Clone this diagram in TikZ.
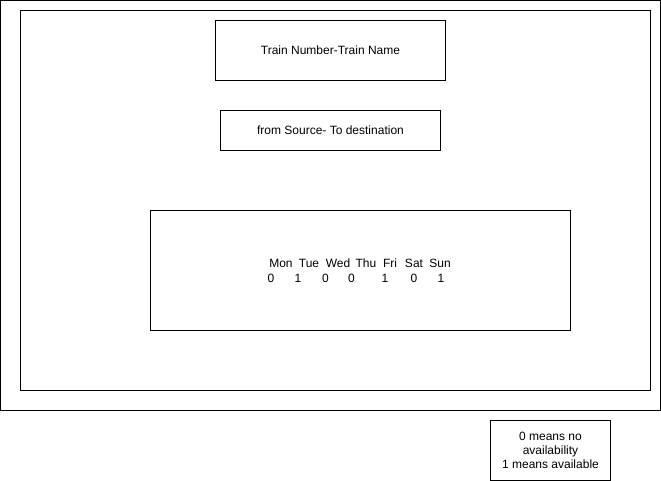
\documentclass[tikz,border=0pt]{standalone}
\usepackage{fontspec}
\setmainfont{Liberation Sans}
\usepackage{tikz}
\usetikzlibrary{positioning}

\tikzset{
  box/.style={draw, line width=1pt, inner sep=0pt, align=center},
  txt/.style={inner sep=0pt, anchor=base},
}

\begin{document}
\begin{tikzpicture}[x=1pt, y=-1pt, line width=1pt, font=\fontsize{12}{14}\selectfont]
  \useasboundingbox (0,0) rectangle (661,481);
  % frames
  \draw (0.5,0.5) rectangle (660.5,410.5);
  \draw (20.5,10.5) rectangle (650.5,390.5);
  \node[box, minimum width=230pt, minimum height=60pt] (train) at (330.5,50.5) {Train Number-Train Name};
  \node[box, minimum width=220pt, minimum height=40pt] (route) at (330.5,130.5) {from Source- To destination};
  \node[box, minimum width=420pt, minimum height=120pt] (days) at (360.5,270.5) {};
  \foreach \d/\x [count=\i] in {Mon/281,Tue/309,Wed/338,Thu/366,Fri/390,Sat/414,Sun/440}
    \node[txt] (day\i) at (\x,267) {\d};
  \foreach \v/\x [count=\i] in {0/271,1/298,0/325.5,0/351.5,1/385,0/414,1/441}
    \node[txt] (val\i) at (\x,282) {\v};
  \node[box, minimum width=120pt, minimum height=60pt] (legend) at (550.5,450.5) {0 means no\\availability\\1 means available};
\end{tikzpicture}
\end{document}
